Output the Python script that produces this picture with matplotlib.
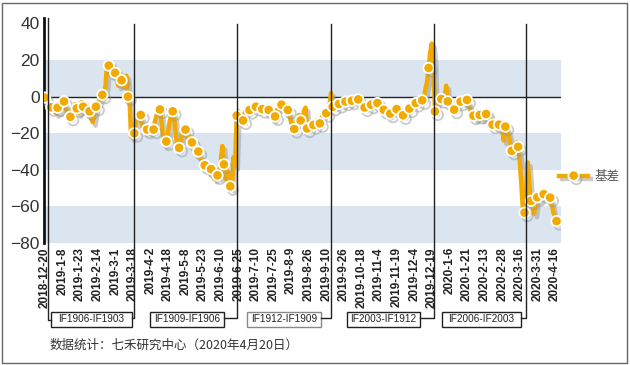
import numpy as np
import matplotlib
matplotlib.use("Agg")
import matplotlib.pyplot as plt
import matplotlib.patheffects as pe
from matplotlib.patches import Rectangle

plt.rcParams['font.family'] = ['Liberation Sans', 'Noto Sans CJK SC', 'DejaVu Sans']

# tick labels (every 11 trading days)
tick_labels = ["2018-12-20", "2019-1-8", "2019-1-23", "2019-2-14", "2019-3-1", "2019-3-18",
               "2019-4-2", "2019-4-18", "2019-5-8", "2019-5-23", "2019-6-10", "2019-6-25",
               "2019-7-10", "2019-7-25", "2019-8-9", "2019-8-26", "2019-9-10", "2019-9-26",
               "2019-10-18", "2019-11-4", "2019-11-19", "2019-12-4", "2019-12-19", "2020-1-6",
               "2020-1-21", "2020-2-13", "2020-2-28", "2020-3-16", "2020-3-31", "2020-4-16"]

# basis, one value per trading day 2018-12-20 .. 2020-4-20
basis = [
    -0.5, -3, -5, -4, -5.8, -7, -6, -9, -6, -8, -5, -4,
    -2.6, -6, -9, -10, -11, -8, -6, -4, -6.4, -9, -4, -3,
    -5.5, -7, -4, -6, -8, -12, -14, -9, -5.5, -4, -2, -1,
    1, 2, 6, 19, 17, 12, 14, 16, 13, 10, 6, 8,
    9, 7, 5, 11.5, 0, -2, -22, -21, -20, -14, -11, -12,
    -10, -16, -19, -17, -18, -19, -18, -17, -18, -13, -10, -8,
    -7, -14, -22, -26, -24.5, -20, -14, -10, -8, -12, -22, -27,
    -28, -24, -20, -17, -18, -21, -23, -22, -25, -27, -28, -29,
    -30, -33, -35, -37, -37.5, -39, -41, -40, -39.6, -43, -45, -42,
    -43, -44, -36, -27, -37, -45, -40, -44, -49, -50, -33, -38,
    -10.4, -8, -11, -12, -13, -9, -7, -8, -7.3, -6, -5, -6,
    -5.5, -4, -6, -7, -6.8, -7, -6, -7, -7.3, -9, -11, -12,
    -10.8, -8, -6, -5, -4.4, -5, -7, -8, -7.3, -10, -14, -16,
    -17.7, -15, -12, -10, -13, -15, -8, -6, -17.4, -16, -14, -15,
    -15.5, -14, -13, -15, -14.6, -12, -10, -9, -9, -7, -5, 2,
    -5.5, -4, -5, -4, -4, -3, -4, -3, -2.7, -3, -2, -3,
    -2.2, -1, -2, -1, -1.5, -3, -5, -6, -5.9, -5, -4, -5,
    -4.4, -4, -3, -3, -3.5, -5, -6, -7, -7.2, -8, -9, -10,
    -9.3, -8, -7, -6, -6.8, -8, -9, -10, -10.2, -9, -8, -7,
    -6.5, -5, -4, -4, -3.5, -3, -2, -2, -2, -1, 4, 8,
    15.7, 24, 29, 20, -8.1, -4, -2, -1, -1.3, -2, -1, 6,
    -2.6, -4, -5, -6, -7.1, -6, -4, -3, -2.7, -2, -3, -2,
    -1.8, -4, -7, -9, -10.4, -12, -11, -8, -10, -12, -11, -10,
    -9.5, -8, -11, -13, -15.3, -16, -15, -14, -15.3, -16, -18, -24,
    -16.4, -18, -21, -25, -29.6, -28, -26, -25, -27.4, -35, -48, -62,
    -63.4, -50, -36, -48, -57, -60, -64, -58, -55, -56, -54, -53,
    -53.3, -52, -54, -55, -55.2, -59, -63, -66, -68, -67, -68,
]

# contract roll-over markers
roll_pos = [55.5, 120.5, 179, 243.3, 300.8]
roll_names = ["IF1906-IF1903", "IF1909-IF1906", "IF1912-IF1909", "IF2003-IF1912", "IF2006-IF2003"]
box_left = [3.8, 65.8, 126.7, 188.8, 248.6]
box_right = [54.8, 112, 173, 234.6, 297.5]
box_edge = ["#222222", "#222222", "#888888", "#222222", "#222222"]

orange = "#f2a900"
band = "#dbe5f0"

fig = plt.figure(figsize=(6.3, 3.65), dpi=100)
ax = fig.add_axes([44 / 630, 1 - 243 / 365, 517 / 630, 225 / 365])

x = np.arange(len(basis))

for lo, hi in [(0, 20), (-40, -20), (-80, -60)]:
    ax.axhspan(lo, hi, color=band, lw=0, zorder=0)
ax.axhline(0, color="#222222", lw=1, zorder=1)

ax.plot(x, basis, color=orange, lw=3.2, marker="o", markevery=4, ms=7.5,
        mfc=orange, mec="white", mew=1.3, zorder=3, label="基差",
        path_effects=[pe.SimpleLineShadow(offset=(2, -2.5), shadow_color="#999999", alpha=0.5),
                      pe.Normal()])

ax.set_xlim(-0.5, 322.8)
ax.set_ylim(-80, 43)
ax.set_yticks([40, 20, 0, -20, -40, -60, -80])
ax.set_xticks(np.arange(len(tick_labels)) * 11)
ax.set_xticklabels(tick_labels, rotation=90, fontsize=8.5, fontweight="bold", color="#222222")
ax.tick_params(axis="y", length=0, pad=3, labelsize=12.5, labelcolor="#333333")
ax.tick_params(axis="x", length=0, pad=3)
for s in ["top", "right", "bottom"]:
    ax.spines[s].set_visible(False)
ax.spines["left"].set_linewidth(2)
ax.spines["left"].set_color("#111111")

tr = ax.get_xaxis_transform()
y_top = (243 - 24) / 225
y_conn = (243 - 318) / 225
y_box0 = (243 - 326.7) / 225
y_box1 = (243 - 311.7) / 225

# left line for the first contract
ax.plot([2.1, 2.1, box_left[0]], [1.0, (243 - 320) / 225, (243 - 320) / 225],
        transform=tr, color="#222222", lw=1, clip_on=False, zorder=4)
for pos, name, bl, br, ec in zip(roll_pos, roll_names, box_left, box_right, box_edge):
    ax.plot([pos, pos, br], [y_top, y_conn, y_conn], transform=tr, color="#222222",
            lw=1, clip_on=False, zorder=4)
    ax.add_patch(Rectangle((bl, y_box0), br - bl, y_box1 - y_box0, transform=tr,
                           fill=False, ec=ec, lw=1, clip_on=False))
    ax.text((bl + br) / 2, (y_box0 + y_box1) / 2, name, transform=tr, ha="center",
            va="center", fontsize=7.2, color="#222222")

leg = fig.legend(loc="center left", bbox_to_anchor=(548 / 630, 1 - 177 / 365), frameon=False,
                 handlelength=2.3, fontsize=9, labelcolor="#555555", handletextpad=0.5)

fig.text(50 / 630, 1 - 345 / 365, "数据统计：七禾研究中心（2020年4月20日）", fontsize=9,
         color="#333333", va="center", family=["Noto Sans CJK SC", "DejaVu Sans"])

fig.patches.append(Rectangle((2 / 630, 2 / 365), 625 / 630, 360 / 365, transform=fig.transFigure,
                             fill=False, ec="#666666", lw=1))

fig.savefig("out.png", dpi=100)
